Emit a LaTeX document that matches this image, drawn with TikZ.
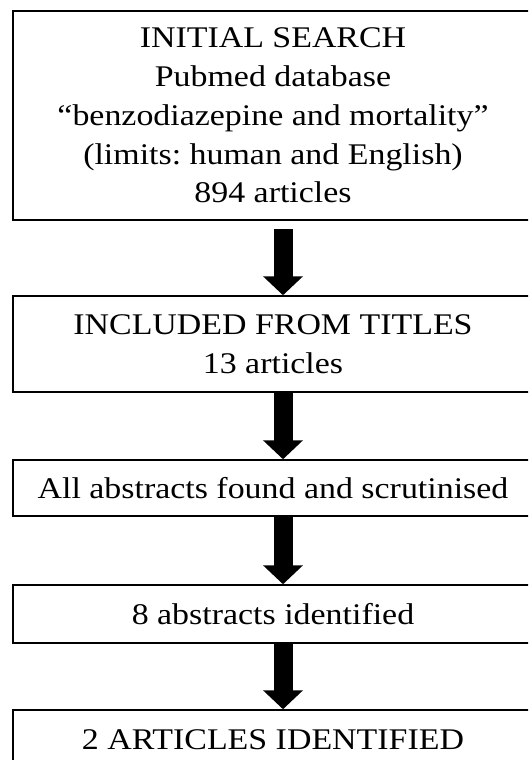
\documentclass[tikz,border=0pt]{standalone}
\usepackage{fontspec}
\setmainfont[FakeStretch=1.13]{Liberation Serif}
\frenchspacing
\usetikzlibrary{arrows.meta}
\tikzset{
  box/.style={draw=black, line width=1.5pt, rectangle, minimum width=520pt, align=center, inner sep=0pt,
    font=\fontsize{30}{38.75}\selectfont},
  arr/.style={line width=19pt, -{Triangle[width=39pt 0 1, length=19pt 0 1]}, black}
}
\begin{document}
\begin{tikzpicture}[x=1pt,y=-1pt]
\useasboundingbox (0,0) rectangle (528,760);
\clip (0,0) rectangle (528,760);
\fill[white] (0,0) rectangle (528,760);
\coordinate (ax) at (283,0);
\node[box, minimum height=209pt] (b1) at (273,115.5) {INITIAL SEARCH\\Pubmed database\\``benzodiazepine and mortality''\\(limits: human and English)\\894 articles};
\node[box, minimum height=96pt] (b2) at (273,344) {INCLUDED FROM TITLES\\13 articles};
\node[box, minimum height=56pt] (b3) at (273,488) {All abstracts found and scrutinised};
\node[box, minimum height=58pt] (b4) at (273,614) {8 abstracts identified};
\node[box, minimum height=60pt] (b5) at (273,740) {2 ARTICLES IDENTIFIED};
\draw[arr] ([yshift=-8pt]b1.south -| ax) -- (b2.north -| ax);
\draw[arr] (b2.south -| ax) -- (b3.north -| ax);
\draw[arr] (b3.south -| ax) -- (b4.north -| ax);
\draw[arr] (b4.south -| ax) -- (b5.north -| ax);
\end{tikzpicture}
\end{document}
